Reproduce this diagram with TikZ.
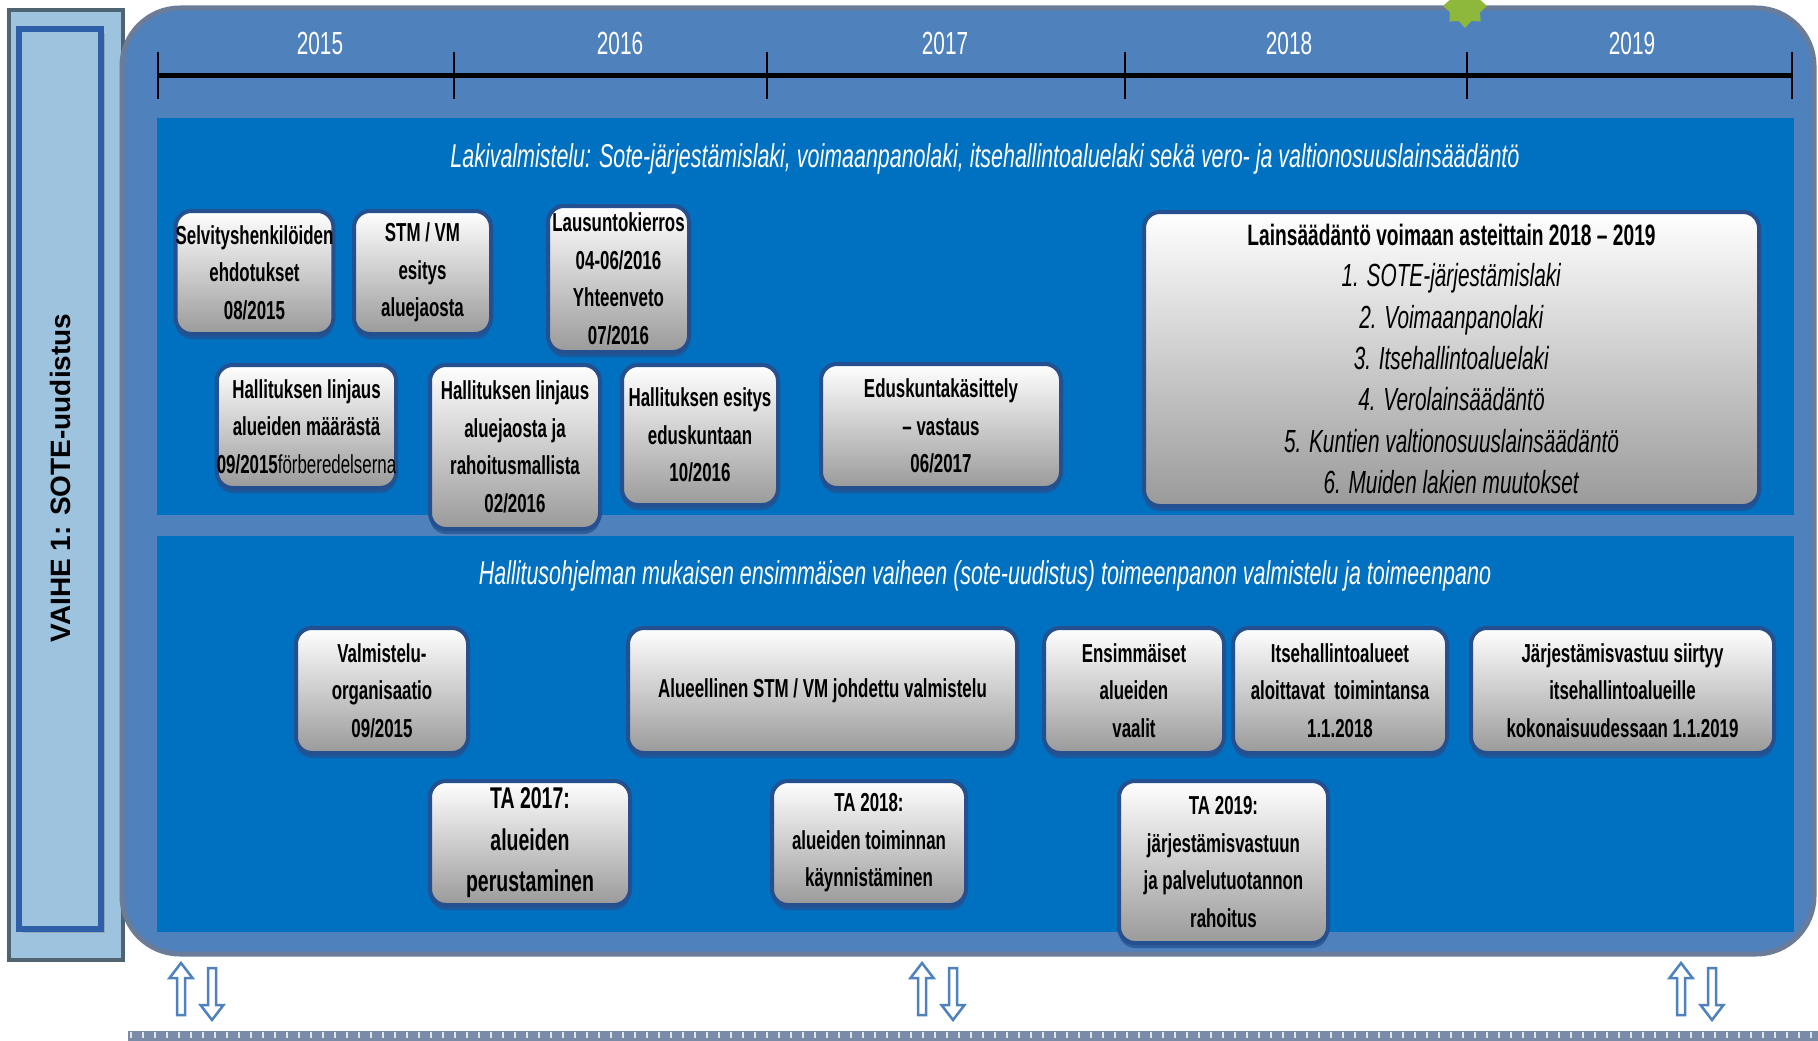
\documentclass[tikz,border=0pt]{standalone}
\usepackage{fontspec}
\setmainfont{Liberation Sans}
\newfontfamily\narrow[FakeStretch=0.65]{Liberation Sans}
\usetikzlibrary{shapes, arrows.meta, positioning, shadows}

\definecolor{panelblue}{HTML}{4F81BD}
\definecolor{panelrim}{HTML}{6B7C99}
\definecolor{darkpanel}{HTML}{0070C0}
\definecolor{boxedge}{HTML}{24508F}
\definecolor{boxgray}{HTML}{9A9A9A}
\definecolor{leftfill}{HTML}{9DC3DE}
\definecolor{leftedge}{HTML}{4E6472}
\definecolor{innerblue}{HTML}{2F5FA8}
\definecolor{stripgray}{HTML}{7A8BA8}
\definecolor{stargreen}{HTML}{8DB83B}

\begin{document}
\begin{tikzpicture}[
    x=1pt, y=-1pt,
    stage_box/.style={draw=boxedge, line width=4pt, rounded corners=16pt, top color=white, bottom color=boxgray,
        align=center, inner sep=0pt, text=black, font=\narrow\bfseries\fontsize{26}{37.5}\selectfont,
        drop shadow={shadow xshift=0pt, shadow yshift=-5pt, fill=boxedge, opacity=0.7}},
    year_label/.style={text=white, font=\narrow\fontsize{32}{38}\selectfont},
    row_title/.style={text=white, font=\narrow\itshape\fontsize{33}{38}\selectfont},
    arrow_outline/.style={draw=panelblue, line width=2.5pt, fill=white, line join=miter}
]
\useasboundingbox (0,0) rectangle (1818,1041);

% --- Phase label (left) ---
\draw[draw=leftedge, line width=4pt, fill=leftfill] (9,10) rectangle (123,960);
\draw[draw=innerblue, line width=6pt, fill=leftfill, drop shadow={shadow xshift=4pt, shadow yshift=-4pt, opacity=0.4}] (19,29) rectangle (101,929);
\node[rotate=90, font=\bfseries\fontsize{28}{34}\selectfont] (phase) at (60,478) {VAIHE 1: SOTE-uudistus};

% --- Main panel ---
\draw[draw=panelrim, line width=5pt, fill=panelblue, rounded corners=58pt] (122,8) rectangle (1814,954);
\node[star, star points=8, star point ratio=1.35, fill=stargreen, inner sep=0pt, minimum size=44pt] (marker) at (1465,6) {};

% --- Timeline ---
\draw[line width=5pt] (158,76) -- (1792,76);
\foreach \tx in {158, 454, 767, 1125, 1467, 1792}
    \draw[line width=1.5pt] (\tx,52) -- (\tx,99);
\foreach \yx/\yr in {320/2015, 620/2016, 945/2017, 1289/2018, 1632/2019}
    \node[year_label] (y\yr) at (\yx,43) {\yr};

% --- Row 1: law drafting ---
\fill[darkpanel] (157,118) rectangle (1794,515);
\node[row_title] (law) at (985,159) {Lakivalmistelu: Sote-järjestämislaki, voimaanpanolaki, itsehallintoaluelaki sekä vero- ja valtionosuuslainsäädäntö};

\node[stage_box, minimum width=157pt, minimum height=123pt] (selv) at (254.5,272.5) {Selvityshenkilöiden\\ehdotukset\\08/2015};
\node[stage_box, minimum width=137pt, minimum height=123pt] (stm) at (422.5,272.5) {STM / VM\\esitys\\aluejaosta};
\node[stage_box, minimum width=141pt, minimum height=146pt] (laus) at (618.5,279) {Lausuntokierros\\04-06/2016\\Yhteenveto\\07/2016};
\node[stage_box, minimum width=171pt, minimum height=123pt] (linj1) at (306.5,426.5) {Hallituksen linjaus\\alueiden määrästä\\09/2015{\mdseries förberedelserna}};
\node[stage_box, minimum width=170pt, minimum height=164pt] (linj2) at (515,447) {Hallituksen linjaus\\aluejaosta ja\\rahoitusmallista\\02/2016};
\node[stage_box, minimum width=156pt, minimum height=140pt] (hes) at (700,435) {Hallituksen esitys\\eduskuntaan\\10/2016};
\node[stage_box, minimum width=240pt, minimum height=124pt] (edus) at (941,426) {Eduskuntakäsittely\\– vastaus\\06/2017};
\node[stage_box, minimum width=615pt, minimum height=294pt, font=\narrow\fontsize{32}{41.4}\selectfont] (voimaan) at (1451.5,359)
    {\textbf{\fontsize{29.5}{41.4}\selectfont Lainsäädäntö voimaan asteittain 2018 – 2019}\\\textit{1. SOTE-järjestämislaki}\\\textit{2. Voimaanpanolaki}\\\textit{3. Itsehallintoaluelaki}\\\textit{4. Verolainsäädäntö}\\\textit{5. Kuntien valtionosuuslainsäädäntö}\\\textit{6. Muiden lakien muutokset}};

% --- Row 2: implementation ---
\fill[darkpanel] (157,536) rectangle (1794,932);
\node[row_title] (impl) at (985,576) {Hallitusohjelman mukaisen ensimmäisen vaiheen (sote-uudistus) toimeenpanon valmistelu ja toimeenpano};

\node[stage_box, minimum width=172pt, minimum height=125pt] (org) at (382,690.5) {Valmistelu-\\organisaatio\\09/2015};
\node[stage_box, minimum width=389pt, minimum height=125pt] (alue) at (822.5,690.5) {Alueellinen STM / VM johdettu valmistelu};
\node[stage_box, minimum width=180pt, minimum height=125pt] (vaalit) at (1134,690.5) {Ensimmäiset\\alueiden\\vaalit};
\node[stage_box, minimum width=214pt, minimum height=125pt] (aloit) at (1340,690.5) {Itsehallintoalueet\\aloittavat\ \ toimintansa\\1.1.2018};
\node[stage_box, minimum width=303pt, minimum height=125pt] (siirto) at (1622.5,690.5) {Järjestämisvastuu siirtyy\\itsehallintoalueille\\kokonaisuudessaan 1.1.2019};
\node[stage_box, minimum width=200pt, minimum height=124pt, font=\narrow\bfseries\fontsize{30}{41.5}\selectfont] (ta17) at (530,843) {TA 2017:\\alueiden\\perustaminen};
\node[stage_box, minimum width=194pt, minimum height=124pt] (ta18) at (869,843) {TA 2018:\\alueiden toiminnan\\käynnistäminen};
\node[stage_box, minimum width=209pt, minimum height=162pt] (ta19) at (1223.5,862) {TA 2019:\\järjestämisvastuun\\ja palvelutuotannon\\rahoitus};

% --- Arrows below the panel ---
\foreach \ax in {181, 922, 1681} {
    \draw[arrow_outline] (\ax,963) -- ++(11.5,15) -- ++(-7.5,0) -- ++(0,37) -- ++(-8,0) -- ++(0,-37) -- ++(-7.5,0) -- cycle;
    \draw[arrow_outline] (\ax+31,1020) -- ++(11.5,-15) -- ++(-7.5,0) -- ++(0,-37) -- ++(-8,0) -- ++(0,37) -- ++(-7.5,0) -- cycle;
}

% --- Bottom strip ---
\fill[stripgray] (128,1031) rectangle (1818,1041);
\draw[white!75!stripgray, line width=6pt, dash pattern=on 2pt off 10pt] (130,1035) -- (1818,1035);

\end{tikzpicture}
\end{document}
